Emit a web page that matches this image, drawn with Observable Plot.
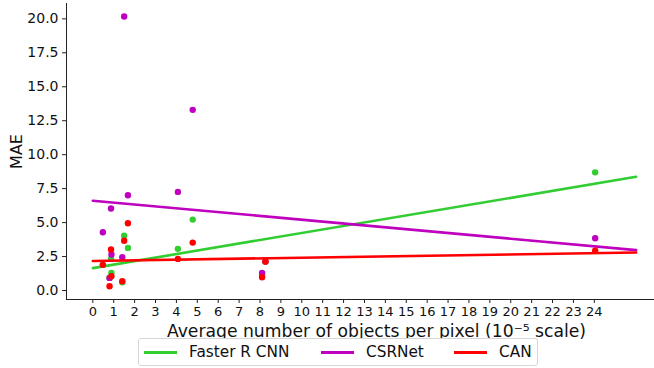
<!DOCTYPE html>
<html>
<head>
<meta charset="utf-8">
<script src="https://cdn.jsdelivr.net/npm/d3@7"></script>
<script src="https://cdn.jsdelivr.net/npm/@observablehq/plot@0.6"></script>
<style>
  body { margin: 0; background: #fff; font-family: "DejaVu Sans", sans-serif; }
  #wrap { position: relative; width: 654px; height: 368px; overflow: hidden; background: #fff; }
  #chart svg { display: block; overflow: visible; }
  .legend { position: absolute; left: 138px; top: 338px; width: 398px; height: 26px;
            border: 1px solid #d6d6d6; border-radius: 3px; background: #fff;
            font-size: 15.3px; color: #111; white-space: nowrap; box-sizing: content-box; }
  .swatch { position: absolute; top: 12px; width: 33px; height: 3px; }
  .label { position: absolute; top: 0; line-height: 26px; }
</style>
</head>
<body>
<div id="wrap">
  <div id="chart"></div>
  <div class="legend" id="legend"></div>
</div>
<script>
// ---- data ----
const density    = [0.48, 0.80, 0.87, 0.89, 1.41, 1.50, 1.68, 4.07, 4.78, 8.10, 8.26, 24.04];
const fasterRCNN = [1.89, 0.93, 2.33, 1.30, 0.61, 4.04, 3.14, 3.07, 5.22, 1.15, 2.13, 8.70];
const csrnet     = [4.29, 0.93, 6.04, 2.65, 2.45, 20.17, 7.01, 7.26, 13.30, 1.30, 2.13, 3.85];
const can        = [1.89, 0.32, 3.02, 1.05, 0.68, 3.66, 4.95, 2.33, 3.53, 0.98, 2.13, 2.94];
const models     = ["Faster R CNN", "CSRNet", "CAN"];
const colors     = ["#32cd32", "#bf00bf", "#ff0000"];
const fitX       = [0, 26];
const xTicks     = [0,1,2,3,4,5,6,7,8,9,10,11,12,13,14,15,16,17,18,19,20,21,22,23,24];
const yTicks     = [0, 2.5, 5, 7.5, 10, 12.5, 15, 17.5, 20];
const xLabel     = "Average number of objects per pixel (10\u207B\u2075 scale)";
const yLabel     = "MAE";

const series = [fasterRCNN, csrnet, can];

function fit(xs, ys) {
  const mx = d3.mean(xs), my = d3.mean(ys);
  let sxy = 0, sxx = 0;
  xs.forEach((x, i) => { sxy += (x - mx) * (ys[i] - my); sxx += (x - mx) ** 2; });
  const b = sxy / sxx;
  return {a: my - b * mx, b};
}

const xDomain = [-1.26, 26.88];
const yDomain = [-0.66, 21.13];

const marks = [];
series.forEach((ys, i) => {
  const pts = density.map((x, j) => ({x, y: ys[j]}));
  const {a, b} = fit(density, ys);
  const line = fitX.map(x => ({x, y: a + b * x}));
  marks.push(Plot.dot(pts, {x: "x", y: "y", r: 3.2, fill: colors[i], stroke: "none"}));
  marks.push(Plot.line(line, {x: "x", y: "y", stroke: colors[i], strokeWidth: 2.6}));
});

const chart = Plot.plot({
  width: 654,
  height: 338,
  marginLeft: 66,
  marginRight: 0,
  marginTop: 3,
  marginBottom: 39,
  style: {fontFamily: "DejaVu Sans", fontSize: "14px", color: "#111", background: "#fff", overflow: "visible"},
  x: {domain: xDomain},
  y: {domain: yDomain},
  marks: [
    ...marks,
    Plot.ruleX([xDomain[0]], {stroke: "#222", strokeWidth: 1}),
    Plot.ruleY([yDomain[0]], {stroke: "#222", strokeWidth: 1}),
    Plot.axisX({ticks: xTicks, tickSize: 4, tickPadding: 3, fontSize: 13, label: null, stroke: "#222"}),
    Plot.axisY({ticks: yTicks, tickFormat: d3.format(".1f"), tickSize: 4, tickPadding: 4, fontSize: 14, label: null, stroke: "#222"}),
    Plot.text([xLabel], {text: d => d, frameAnchor: "bottom", lineAnchor: "middle", dy: 32, dx: 16, fontSize: 17.2}),
    Plot.text([yLabel], {text: d => d, frameAnchor: "left", textAnchor: "middle", lineAnchor: "middle", rotate: -90, dx: -50, fontSize: 16})
  ]
});
document.getElementById("chart").append(chart);

// legend entries placed as in the reference box
const swatchLeft = [5, 182, 315];
const labelLeft  = [50, 227, 360];
const legend = document.getElementById("legend");
models.forEach((m, i) => {
  const sw = document.createElement("span");
  sw.className = "swatch";
  sw.style.background = colors[i];
  sw.style.left = swatchLeft[i] + "px";
  const label = document.createElement("span");
  label.className = "label";
  label.textContent = m;
  label.style.left = labelLeft[i] + "px";
  legend.append(sw, label);
});
</script>
</body>
</html>
